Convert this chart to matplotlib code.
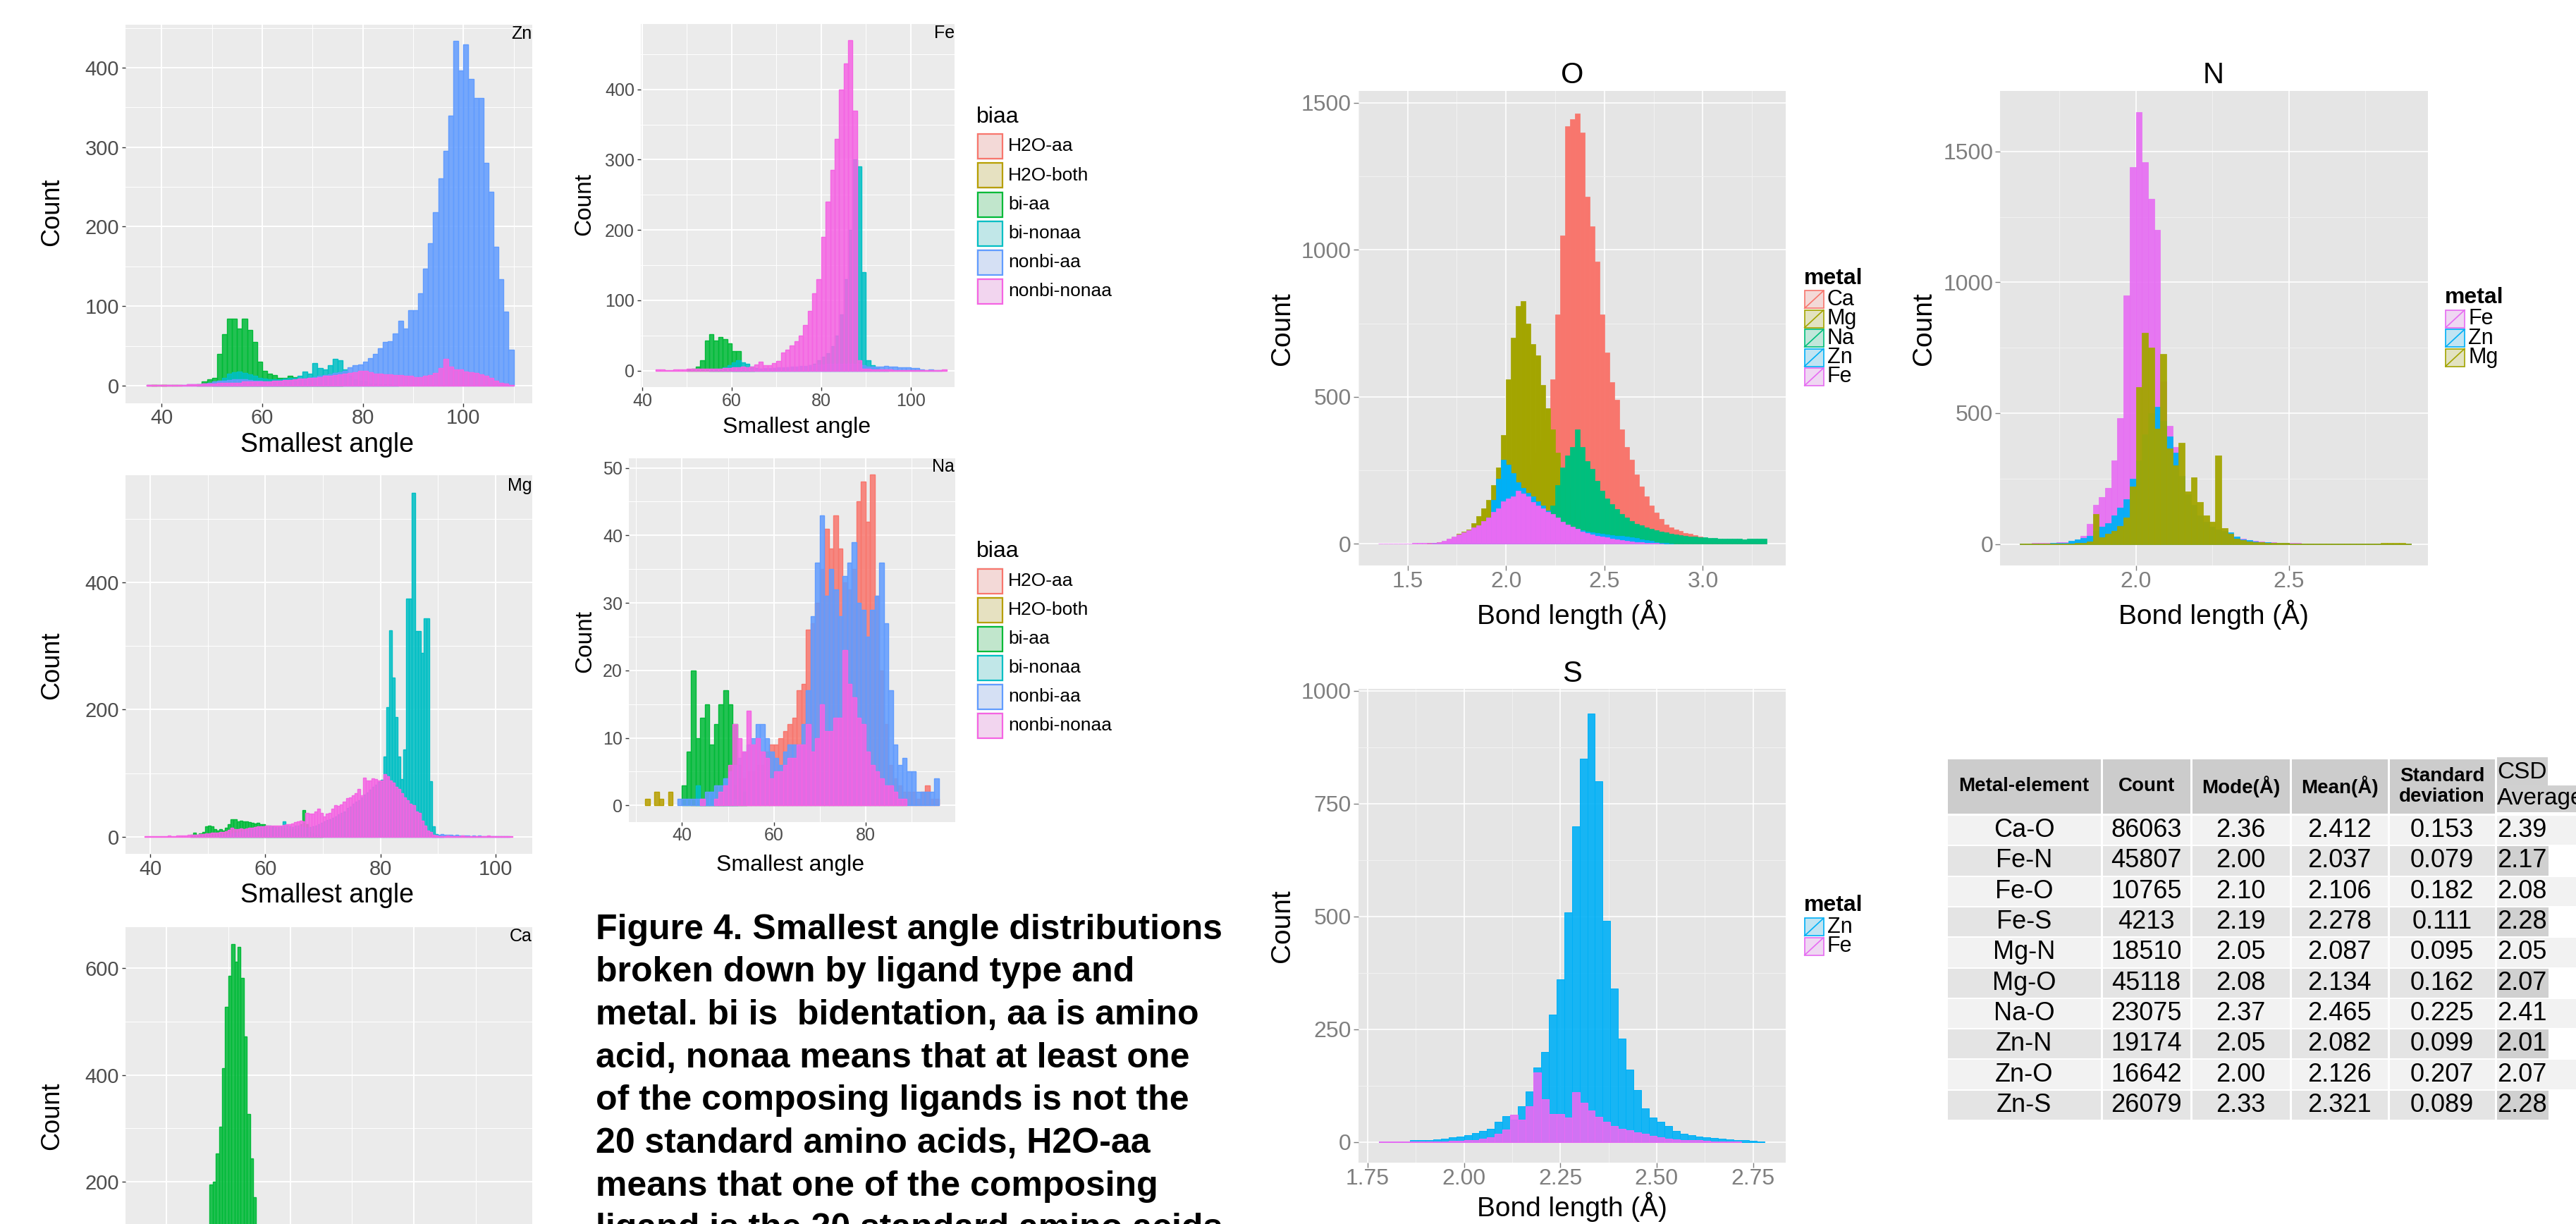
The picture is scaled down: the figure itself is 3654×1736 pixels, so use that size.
import numpy as np
import matplotlib
matplotlib.use('Agg')
import matplotlib.pyplot as plt
from matplotlib.patches import Rectangle
from matplotlib.colors import to_rgba

plt.rcParams['font.family'] = ['Liberation Sans', 'DejaVu Sans']

# ---------------- data ----------------
biaa_levels = ['H2O-aa', 'H2O-both', 'bi-aa', 'bi-nonaa', 'nonbi-aa', 'nonbi-nonaa']
biaa_colors = ['#F8766D', '#B79F00', '#00BA38', '#00BFC4', '#619CFF', '#F564E3']

# Zn, smallest angle, 1 degree bins (start = left edge of first bin)
zn_width = 1.0
zn_h2o_aa_start, zn_h2o_aa = 37, [1, 1, 0, 1, 1, 0, 1]
zn_h2o_both_start, zn_h2o_both = 38, [1, 1, 1, 0, 1]
zn_bi_aa_start = 47
zn_bi_aa = [2, 5, 8, 10, 40, 65, 84, 84, 72, 84, 70, 55, 30, 19, 15, 13, 10, 10, 12, 11,
            8, 6, 5, 4, 3, 2, 2, 1, 1]
zn_bi_nonaa_start = 50
zn_bi_nonaa = [3, 6, 10, 15, 17, 18, 16, 14, 12, 10, 9, 8, 8, 8, 9, 10, 10, 12, 18, 15,
               28, 22, 20, 26, 34, 32, 20, 12, 8, 6, 5, 3, 3, 2, 2, 2, 1]
zn_nonbi_aa_start = 37
zn_nonbi_aa = [1, 1, 1, 1, 1, 1, 1, 1, 2, 2, 2, 3, 4, 5, 6, 6, 7, 8, 8, 8,
               7, 6, 6, 5, 5, 5, 6, 6, 7, 7, 8, 9, 10, 11, 12, 13, 14, 16, 17, 19,
               23, 26, 27, 30, 35, 40, 47, 55, 56, 66, 82, 72, 95, 95, 116, 147, 179, 218, 261, 295,
               340, 434, 396, 429, 386, 362, 362, 280, 244, 175, 134, 93, 45]
zn_nonbi_nonaa_start = 37
zn_nonbi_nonaa = [1, 1, 1, 1, 1, 1, 1, 1, 2, 2, 2, 3, 3,
                  3, 4, 4, 4, 4, 4, 5, 5, 5, 5,
                  5, 5, 6, 6, 7, 7, 8, 9, 9, 10,
                  10, 11, 12, 12, 13, 14, 15, 16, 17, 19,
                  19, 17, 15, 15, 14, 14, 13, 13, 12, 12,
                  11, 11, 12, 13, 16, 22, 34, 24, 20, 20,
                  18, 17, 16, 14, 12, 10, 6, 4, 3, 1]

# Fe, 1 degree bins
fe_width = 1.0
fe_bi_aa_start = 50
fe_bi_aa = [2, 3, 6, 15, 43, 52, 43, 48, 45, 39, 28, 28, 3, 2, 1]
fe_bi_nonaa_start = 55
fe_bi_nonaa = [2, 3, 3, 5, 8, 12, 15, 12, 10, 6, 4, 3, 3, 3, 4, 4, 4, 5, 5, 5,
               6, 6, 8, 10, 15, 20, 25, 35, 50, 80, 130, 200, 300, 290, 140, 15, 8, 4, 2, 1]
fe_nonbi_aa_start = 60
fe_nonbi_aa = [2, 2, 3, 3, 3, 3, 3, 4, 4, 4, 5, 5, 5, 6, 6, 7, 7, 8, 8, 9,
               9, 10, 10, 10, 10, 10, 10, 10, 10, 8, 6, 6, 6, 6, 7, 6, 6, 5, 5, 5,
               4, 4, 2, 1, 2, 1, 1]
fe_nonbi_nonaa_start = 43
fe_nonbi_nonaa = [2, 2, 1, 1, 2, 2, 2, 3, 3, 3, 3, 3, 3, 3, 3, 4, 4, 5, 5, 6,
                  5, 6, 9, 13, 8, 8, 11, 14, 26, 30, 36, 42, 50, 65, 85, 110, 130, 190, 240, 285,
                  330, 400, 437, 470, 370, 15, 3, 3, 2, 2, 2, 2, 2, 1, 1, 1, 1, 1, 1, 1,
                  1, 1, 1, 1, 2]

# Mg, 0.5 degree bins
mg_width = 0.5
mg_bi_aa_start = 47.0
mg_bi_aa = [3, 6, 3, 5, 8, 16, 17, 16, 12, 10, 12, 10, 14, 20, 28, 27, 24, 25, 24, 24,
            23, 22, 21, 22, 20, 20, 18, 16, 15, 15, 15, 15, 14, 12, 12, 12, 12, 13, 20, 42,
            20, 8, 5, 3, 2, 1]
mg_bi_nonaa_start = 52.0
mg_bi_nonaa = [2, 2, 3, 4, 5, 6, 7, 8, 9, 10, 12, 13, 14, 15, 16, 16, 16, 17, 16, 15,
               15, 16, 24, 18, 16, 15, 18, 17, 16, 15, 14, 15, 16, 18, 20, 22, 24, 26, 28, 30,
               32, 35, 38, 40, 45, 48, 52, 55, 58, 62, 66, 70, 74, 78, 82, 86, 90, 126, 204, 325,
               250, 188, 126, 91, 137, 374, 374, 541, 323, 323, 289, 343, 343, 87, 16, 4, 2, 1]
mg_nonbi_aa_start = 89.0
mg_nonbi_aa = [2, 3, 3, 4, 3, 3, 3, 2, 3, 2, 2, 2, 2, 1, 2, 1, 2, 1, 1, 1,
               1, 1, 1, 1, 1, 1, 1]
mg_nonbi_nonaa_start = 39.0
mg_nonbi_nonaa = [1, 1, 1, 1, 1, 1, 1, 1, 2, 1, 1, 2, 2, 2, 2, 3, 3, 3, 3, 4,
                  4, 5, 5, 6, 6, 7, 8, 8, 9, 11, 14, 12, 12, 13, 12, 13, 14, 14, 15, 16,
                  16, 16, 17, 17, 17, 18, 18, 18, 19, 20, 20, 21, 23, 24, 25, 24, 38, 36, 36, 40,
                  44, 38, 32, 36, 38, 44, 50, 49, 51, 55, 61, 62, 65, 68, 75, 65, 93, 89, 89, 92,
                  91, 89, 89, 99, 95, 89, 85, 79, 75, 69, 62, 57, 52, 50, 40, 38, 25, 18, 10, 8,
                  3, 2, 1, 1, 1, 2, 1, 1, 1, 1, 2, 1, 1, 1, 1, 1, 1, 1, 1, 2,
                  1, 1, 1, 1, 1, 1, 1, 1]

# Ca, 0.5 degree bins
ca_width = 0.5
ca_bi_aa_start = 43.0
ca_bi_aa = [3, 5, 8, 12, 20, 32, 75, 120, 195, 200, 253, 303, 413, 528, 586, 645, 612, 640, 582, 472,
            327, 243, 171, 110, 70, 45, 28, 18, 12, 8, 5, 3, 2, 1]

# Na, 1 degree bins
na_width = 1.0
na_h2o_aa_start = 40
na_h2o_aa = [0, 0, 1, 0, 1, 1, 1, 1, 2, 2, 3, 3, 4, 4, 5, 5, 6, 6, 8, 9,
             9, 10, 11, 12, 13, 17, 18, 26, 27, 30, 35, 41, 38, 43, 38, 33, 32, 35, 45, 48,
             42, 49, 31, 20, 12, 6, 4, 3, 2, 2, 2, 1, 2, 3, 1, 1]
na_h2o_both_start = 32
na_h2o_both = [1, 0, 2, 1, 0, 2]
na_bi_aa_start = 40
na_bi_aa = [3, 8, 20, 10, 13, 15, 9, 12, 15, 17, 15, 12, 6, 2]
na_bi_nonaa_start = 43
na_bi_nonaa = [3, 1, 1, 2, 1, 2, 4, 4, 1]
na_nonbi_aa_start = 39
na_nonbi_aa = [1, 1, 1, 1, 1, 1, 2, 2, 3, 3, 4, 5, 6, 7, 8, 9, 10, 12, 12, 10,
               8, 7, 6, 8, 9, 9, 9, 12, 17, 28, 36, 43, 31, 35, 32, 28, 34, 36, 39, 30,
               29, 25, 29, 31, 36, 27, 17, 9, 6, 7, 5, 5, 2, 2, 2, 2, 4]
na_nonbi_nonaa_start = 40
na_nonbi_nonaa = [0, 0, 0, 0, 1, 0, 0, 1, 2, 3, 6, 12, 10, 8, 14, 9, 10, 8, 7, 4,
                  5, 5, 6, 7, 7, 9, 9, 12, 8, 10, 15, 11, 11, 13, 13, 23, 18, 16, 13, 12,
                  8, 6, 5, 4, 3, 3, 2, 1, 1]

# bond lengths
metal_colors = {'Ca': '#F8766D', 'Mg': '#A3A500', 'Na': '#00BF7D', 'Zn': '#00B0F6', 'Fe': '#E76BF3'}

o_width = 0.025
o_ca_start = 1.600
o_ca = [1, 1, 2, 3, 5, 8, 12, 18, 25, 35, 45, 60, 75, 90, 110, 130, 150, 170, 190, 210,
        240, 270, 310, 350, 420, 560, 780, 1050, 1420, 1445, 1465, 1400, 1180, 1080, 960, 780, 650, 550, 490, 390,
        330, 285, 235, 195, 160, 130, 105, 85, 65, 55, 48, 43, 37, 33, 29, 24, 19, 16, 13, 10,
        8, 6, 5, 4, 3, 3, 2, 2, 1]
o_mg_start = 1.600
o_mg = [2, 3, 5, 8, 14, 22, 35, 42, 48, 70, 95, 120, 150, 200, 260, 370, 560, 700, 810, 826,
        750, 680, 640, 540, 460, 390, 310, 245, 190, 150, 115, 90, 70, 55, 42, 33, 26, 21, 16, 13,
        10, 8, 6, 5, 4, 3, 3, 2, 2, 1]
o_na_start = 1.850
o_na = [3, 5, 10, 15, 22, 30, 40, 50, 60, 70, 78, 85, 90, 95, 98, 130, 200, 260, 300, 330,
        390, 330, 280, 255, 215, 180, 155, 135, 118, 100, 88, 77, 68, 62, 55, 50, 45, 41, 38, 35,
        32, 29, 27, 25, 24, 22, 21, 20, 19, 18, 18, 17, 17, 17, 16, 17, 18, 17, 18]
o_zn_start = 1.625
o_zn = [2, 3, 5, 8, 12, 18, 25, 35, 45, 50, 65, 90, 150, 220, 285, 270, 240, 210, 190, 172,
        160, 145, 130, 112, 95, 78, 68, 62, 55, 50, 45, 42, 40, 37, 33, 31, 30, 28, 26, 24,
        22, 19, 16, 13, 10, 6, 4, 2, 1]
o_fe_start = 1.350
o_fe = [1, 1, 1, 1, 1, 1, 1, 2, 2, 3, 3, 4, 6, 10, 18, 25, 32, 40, 47, 55,
        62, 78, 90, 108, 120, 145, 155, 162, 180, 170, 160, 142, 130, 120, 108, 100, 88, 75, 66, 58,
        50, 42, 37, 32, 28, 24, 21, 18, 15, 12, 10, 8, 6, 5, 4, 3, 2, 1]

n_width = 0.02
n_start = 1.62
n_fe = [2, 2, 3, 3, 4, 5, 6, 8, 10, 15, 30, 77, 150, 180, 215, 320, 480, 950, 1440, 1650,
        1460, 1320, 1200, 620, 450, 370, 240, 170, 130, 100, 78, 50, 40, 35, 30, 25, 20, 16, 13, 10,
        8, 6, 5, 4, 3, 3, 2, 2, 2, 2, 1, 1, 1, 1, 1, 1, 1, 1, 1, 1,
        1, 1, 2, 1]
n_zn = [1, 1, 1, 2, 2, 3, 3, 5, 12, 18, 22, 30, 50, 65, 80, 110, 140, 170, 250, 320,
        420, 500, 525, 470, 410, 350, 260, 190, 150, 110, 85, 65, 55, 50, 45, 28, 18, 14, 10, 8,
        6, 5, 4, 3, 2, 2, 2, 2, 1, 1, 1, 1, 1, 1, 1, 1, 1, 1, 1, 1,
        1, 1, 1, 1]
n_mg = [1, 1, 1, 1, 1, 1, 1, 2, 2, 3, 5, 10, 114, 25, 40, 50, 70, 100, 220, 600,
        808, 750, 440, 727, 365, 300, 387, 200, 254, 160, 110, 84, 338, 60, 40, 20, 15, 10, 8, 6,
        5, 4, 3, 3, 2, 2, 2, 2, 2, 2, 2, 2, 2, 2, 2, 2, 2, 2, 2, 3,
        3, 4, 3, 2]

s_width = 0.02
s_start = 1.78
s_zn = [1, 1, 2, 2, 4, 5, 5, 6, 8, 10, 12, 15, 20, 25, 30, 45, 58, 50, 80, 112,
        165, 200, 283, 360, 510, 700, 850, 950, 800, 490, 340, 230, 160, 115, 75, 55, 45, 35, 24, 18,
        15, 13, 11, 9, 8, 6, 5, 4, 3, 2]
s_fe = [1, 1, 1, 1, 1, 1, 2, 2, 2, 3, 3, 4, 5, 7, 10, 18, 28, 60, 50, 80,
        155, 95, 62, 62, 55, 110, 88, 70, 56, 45, 35, 30, 26, 22, 18, 14, 10, 8, 6, 5,
        4, 4, 3, 2, 2, 1, 1]

table_header = ['Metal-element', 'Count', 'Mode(Å)', 'Mean(Å)', 'Standard\ndeviation']
table_pairs = ['Ca-O', 'Fe-N', 'Fe-O', 'Fe-S', 'Mg-N', 'Mg-O', 'Na-O', 'Zn-N', 'Zn-O', 'Zn-S']
table_count = ['86063', '45807', '10765', '4213', '18510', '45118', '23075', '19174', '16642', '26079']
table_mode = ['2.36', '2.00', '2.10', '2.19', '2.05', '2.08', '2.37', '2.05', '2.00', '2.33']
table_mean = ['2.412', '2.037', '2.106', '2.278', '2.087', '2.134', '2.465', '2.082', '2.126', '2.321']
table_sd = ['0.153', '0.079', '0.182', '0.111', '0.095', '0.162', '0.225', '0.099', '0.207', '0.089']
table_csd = ['2.39', '2.17', '2.08', '2.28', '2.05', '2.07', '2.41', '2.01', '2.07', '2.28']

caption_lines = ['Figure 4. Smallest angle distributions',
                 'broken down by ligand type and',
                 'metal. bi is  bidentation, aa is amino',
                 'acid, nonaa means that at least one',
                 'of the composing ligands is not the',
                 '20 standard amino acids, H2O-aa',
                 'means that one of the composing',
                 'ligand is the 20 standard amino acids']

# ---------------- figure ----------------
W, H = 3654, 1736
fig = plt.figure(figsize=(W / 100, H / 100), dpi=100)


def px_axes(x0, y0, x1, y1):
    return fig.add_axes([x0 / W, 1 - y1 / H, (x1 - x0) / W, (y1 - y0) / H])


def hist(ax, start, width, counts, color, alpha=0.85, lw=1.0):
    counts = np.asarray(counts, dtype=float)
    left = start + width * np.arange(len(counts))
    keep = counts > 0
    ax.bar(left[keep], counts[keep], width=width, align='edge',
           facecolor=to_rgba(color, alpha), edgecolor=color, linewidth=lw)


def new_theme(ax, xlim, ylim, xmaj, xmin, ymaj, ymin, fs):
    ax.set_facecolor('#EBEBEB')
    for s in ax.spines.values():
        s.set_visible(False)
    ax.set_xlim(*xlim)
    ax.set_ylim(*ylim)
    ax.set_xticks(xmaj)
    ax.set_xticks(xmin, minor=True)
    ax.set_yticks(ymaj)
    ax.set_yticks(ymin, minor=True)
    ax.grid(which='major', color='white', linewidth=1.4)
    ax.grid(which='minor', color='white', linewidth=0.7)
    ax.set_axisbelow(True)
    ax.tick_params(which='major', length=3.5, width=1, color='#333333',
                   labelsize=fs, labelcolor='#4D4D4D')
    ax.tick_params(axis='x', pad=2)
    ax.tick_params(axis='y', pad=3)
    ax.tick_params(which='minor', length=0)


def old_theme(ax, xlim, ylim, xmaj, xlab, xmin, ymaj, ymin, fs=23):
    ax.set_facecolor('#E5E5E5')
    for s in ax.spines.values():
        s.set_visible(False)
    ax.set_xlim(*xlim)
    ax.set_ylim(*ylim)
    ax.set_xticks(xmaj)
    ax.set_xticklabels(xlab)
    ax.set_xticks(xmin, minor=True)
    ax.set_yticks(ymaj)
    ax.set_yticks(ymin, minor=True)
    ax.grid(which='major', color='white', linewidth=1.2)
    ax.grid(which='minor', color='#F2F2F2', linewidth=0.7)
    ax.set_axisbelow(True)
    ax.tick_params(which='major', length=5, width=1, color='#7F7F7F',
                   labelsize=fs, labelcolor='#7F7F7F')
    ax.tick_params(axis='x', pad=1)
    ax.tick_params(axis='y', pad=2)
    ax.tick_params(which='minor', length=0)


# ---- Zn ----
ax = px_axes(178, 34.5, 755, 571.5)
new_theme(ax, (32.8, 113.7), (-21.7, 454.5), [40, 60, 80, 100], [50, 70, 90, 110],
          [0, 100, 200, 300, 400], [50, 150, 250, 350, 450], 21)
for st, cn, c in [(zn_h2o_aa_start, zn_h2o_aa, biaa_colors[0]),
                  (zn_h2o_both_start, zn_h2o_both, biaa_colors[1]),
                  (zn_bi_aa_start, zn_bi_aa, biaa_colors[2]),
                  (zn_bi_nonaa_start, zn_bi_nonaa, biaa_colors[3]),
                  (zn_nonbi_aa_start, zn_nonbi_aa, biaa_colors[4]),
                  (zn_nonbi_nonaa_start, zn_nonbi_nonaa, biaa_colors[5])]:
    hist(ax, st, zn_width, cn, c)

# ---- Fe ----
ax = px_axes(909, 34, 1354, 549)
new_theme(ax, (39.7, 109.8), (-23.5, 493), [40, 60, 80, 100], [50, 70, 90],
          [0, 100, 200, 300, 400], [50, 150, 250, 350, 450], 18)
for st, cn, c in [(fe_bi_aa_start, fe_bi_aa, biaa_colors[2]),
                  (fe_bi_nonaa_start, fe_bi_nonaa, biaa_colors[3]),
                  (fe_nonbi_aa_start, fe_nonbi_aa, biaa_colors[4]),
                  (fe_nonbi_nonaa_start, fe_nonbi_nonaa, biaa_colors[5])]:
    hist(ax, st, fe_width, cn, c)

# ---- Mg ----
ax = px_axes(178, 674, 755, 1211)
new_theme(ax, (35.7, 106.4), (-26.8, 568.5), [40, 60, 80, 100], [50, 70, 90],
          [0, 200, 400], [100, 300, 500], 21)
for st, cn, c in [(mg_bi_aa_start, mg_bi_aa, biaa_colors[2]),
                  (mg_bi_nonaa_start, mg_bi_nonaa, biaa_colors[3]),
                  (mg_nonbi_aa_start, mg_nonbi_aa, biaa_colors[4]),
                  (mg_nonbi_nonaa_start, mg_nonbi_nonaa, biaa_colors[5])]:
    hist(ax, st, mg_width, cn, c)

# ---- Ca (lower part runs past the bottom edge, as in the reference) ----
ax = px_axes(178, 1314.5, 755, 1852)
new_theme(ax, (33.4, 99.1), (-32.3, 677.2), [40, 60, 80], [50, 70, 90],
          [200, 400, 600], [100, 300, 500], 21)
ax.tick_params(axis='x', labelbottom=False)
hist(ax, ca_bi_aa_start, ca_width, ca_bi_aa, biaa_colors[2])

# ---- Na ----
ax = px_axes(892, 649.7, 1354.5, 1165.7)
new_theme(ax, (28.4, 99.5), (-2.45, 51.45), [40, 60, 80], [30, 50, 70, 90],
          [0, 10, 20, 30, 40, 50], [5, 15, 25, 35, 45], 18)
for st, cn, c in [(na_h2o_aa_start, na_h2o_aa, biaa_colors[0]),
                  (na_h2o_both_start, na_h2o_both, biaa_colors[1]),
                  (na_bi_aa_start, na_bi_aa, biaa_colors[2]),
                  (na_bi_nonaa_start, na_bi_nonaa, biaa_colors[3]),
                  (na_nonbi_aa_start, na_nonbi_aa, biaa_colors[4]),
                  (na_nonbi_nonaa_start, na_nonbi_nonaa, biaa_colors[5])]:
    hist(ax, st, na_width, cn, c)

# ---- O ----
ax = px_axes(1926.7, 129, 2533, 801.6)
old_theme(ax, (1.254, 3.421), (-73, 1540.7), [1.5, 2.0, 2.5, 3.0], ['1.5', '2.0', '2.5', '3.0'],
          [1.25, 1.75, 2.25, 2.75, 3.25], [0, 500, 1000, 1500], [250, 750, 1250])
for st, cn, m in [(o_ca_start, o_ca, 'Ca'), (o_mg_start, o_mg, 'Mg'), (o_na_start, o_na, 'Na'),
                  (o_zn_start, o_zn, 'Zn'), (o_fe_start, o_fe, 'Fe')]:
    hist(ax, st, o_width, cn, metal_colors[m], alpha=1.0, lw=0.5)

# ---- N ----
ax = px_axes(2837, 129, 3443.5, 801.6)
old_theme(ax, (1.5565, 2.9535), (-81, 1731), [2.0, 2.5], ['2.0', '2.5'],
          [1.75, 2.25, 2.75], [0, 500, 1000, 1500], [250, 750, 1250])
for cn, m, a in [(n_fe, 'Fe', 0.9), (n_zn, 'Zn', 0.95), (n_mg, 'Mg', 0.95)]:
    hist(ax, n_start, n_width, cn, metal_colors[m], alpha=a, lw=0.5)

# ---- S ----
ax = px_axes(1926.7, 977.3, 2533, 1649)
old_theme(ax, (1.7257, 2.835), (-45.6, 1004.2), [1.75, 2.0, 2.25, 2.5, 2.75],
          ['1.75', '2.00', '2.25', '2.50', '2.75'], [1.875, 2.125, 2.375, 2.625],
          [0, 250, 500, 750, 1000], [125, 375, 625, 875])
for cn, m in [(s_zn, 'Zn'), (s_fe, 'Fe')]:
    hist(ax, s_start, s_width, cn, metal_colors[m], alpha=0.9, lw=0.7)

# ---------------- overlay (text, legends, table) ----------------
ov = fig.add_axes([0, 0, 1, 1])
ov.set_xlim(0, W)
ov.set_ylim(H, 0)
ov.axis('off')

# panel tags
for x, y, s in [(754, 54.7, 'Zn'), (1354, 54, 'Fe'), (755, 695.7, 'Mg'),
                (755, 1335, 'Ca'), (1354, 669.4, 'Na')]:
    ov.text(x, y, s, fontsize=18, ha='right', va='baseline')

for x, y, fs in [(464, 631, 27), (464, 1270, 27), (1130, 606, 23), (1121.5, 1227, 23)]:
    ov.text(x, y, 'Smallest angle', fontsize=fs, ha='center', va='center')
for x, y, fs in [(74, 301, 26), (74, 944, 26), (74, 1583, 26), (829, 290, 24), (830, 909, 24)]:
    ov.text(x, y, 'Count', fontsize=fs, rotation=90, ha='center', va='center')

# right panel titles
for x, y, s in [(2229.8, 106.6, 'O'), (3140, 106.6, 'N'), (2229.8, 956, 'S')]:
    ov.text(x, y, s, fontsize=30, ha='center', va='center')
for x, y in [(2229.8, 872), (3140, 872), (2229.8, 1712)]:
    ov.text(x, y, 'Bond length (Å)', fontsize=28, ha='center', va='center')
for x, y in [(1819, 466), (2729, 466), (1819, 1313)]:
    ov.text(x, y, 'Count', fontsize=28, rotation=90, ha='center', va='center')


def biaa_legend(x, y_title, y_keys):
    ov.text(x, y_title, 'biaa', fontsize=23, ha='left', va='center')
    for lab, col, yk in zip(biaa_levels, biaa_colors, y_keys):
        ov.add_patch(Rectangle((x, yk - 19), 38, 38, facecolor='#F2F2F2', edgecolor='none'))
        ov.add_patch(Rectangle((x + 1.5, yk - 17.5), 35, 35, facecolor=to_rgba(col, 0.2),
                               edgecolor=col, linewidth=1.6))
        ov.text(x + 45, yk, lab, fontsize=19, ha='left', va='center')


biaa_legend(1385, 166, [207.5, 248.5, 290, 331, 372, 413])
biaa_legend(1385, 782, [824, 865, 906, 947, 988, 1029])


def metal_legend(x, y_title, y_keys, metals):
    ov.text(x, y_title, 'metal', fontsize=23, fontweight='bold', ha='left', va='center')
    for m, yk in zip(metals, y_keys):
        col = metal_colors[m]
        ov.add_patch(Rectangle((x, yk - 13.5), 29, 27, facecolor='#F2F2F2', edgecolor='none'))
        ov.add_patch(Rectangle((x + 1, yk - 12.5), 27, 25, facecolor=to_rgba(col, 0.2),
                               edgecolor=col, linewidth=1.2))
        ov.plot([x + 1, x + 28], [yk + 12.5, yk - 12.5], color=col, linewidth=1.2)
        ov.text(x + 33, yk, m, fontsize=22, ha='left', va='center')


metal_legend(2558.7, 394.6, [424.8, 452.2, 479.6, 507, 534.4], ['Ca', 'Mg', 'Na', 'Zn', 'Fe'])
metal_legend(3468, 422, [452.2, 479.6, 507], ['Fe', 'Zn', 'Mg'])
metal_legend(2558.7, 1284, [1314.8, 1342.2], ['Zn', 'Fe'])

# caption
for i, line in enumerate(caption_lines):
    ov.text(845, 1331.6 + 60.7 * i, line, fontsize=36, fontweight='bold',
            ha='left', va='baseline')

# table
col_edges = [2761, 2981, 3108, 3249, 3388, 3540]
hdr_top, hdr_bot = 1077, 1154
row_top, row_h = 1156, 43.3
for i in range(5):
    x0, x1 = col_edges[i] + 1.5, col_edges[i + 1] - 1.5
    ov.add_patch(Rectangle((x0, hdr_top), x1 - x0, hdr_bot - hdr_top,
                           facecolor='#CCCCCC', edgecolor='none'))
    ov.text((x0 + x1) / 2, (hdr_top + hdr_bot) / 2, table_header[i], fontsize=20,
            fontweight='bold', ha='center', va='center', linespacing=1.15)
ov.add_patch(Rectangle((3541.5, 1074), 72, 40, facecolor='#CFCFCF', edgecolor='none'))
ov.add_patch(Rectangle((3541.5, 1114), 120, 38, facecolor='#D0D0D0', edgecolor='none'))
ov.text(3542, 1095, 'CSD', fontsize=24, ha='left', va='center')
ov.text(3542, 1133, 'Average', fontsize=24, ha='left', va='center')

columns = [table_pairs, table_count, table_mode, table_mean, table_sd]
for r in range(len(table_pairs)):
    y0 = row_top + r * row_h
    shade = '#F2F2F2' if r % 2 == 0 else '#E4E4E4'
    for i in range(5):
        x0, x1 = col_edges[i] + 1.5, col_edges[i + 1] - 1.5
        ov.add_patch(Rectangle((x0, y0 + 1), x1 - x0, row_h - 2, facecolor=shade, edgecolor='none'))
        ov.text((x0 + x1) / 2, y0 + row_h / 2, columns[i][r], fontsize=26,
                ha='center', va='center')
    if r % 2 == 0:
        ov.add_patch(Rectangle((3541.5, y0 + 1), 120, row_h - 2, facecolor='#F2F2F2', edgecolor='none'))
    else:
        ov.add_patch(Rectangle((3541.5, y0 + 1), 73, row_h - 2, facecolor='#D0D0D0', edgecolor='none'))
    ov.text(3542, y0 + row_h / 2, table_csd[r], fontsize=26, ha='left', va='center')

fig.savefig('out.png', dpi=100)
